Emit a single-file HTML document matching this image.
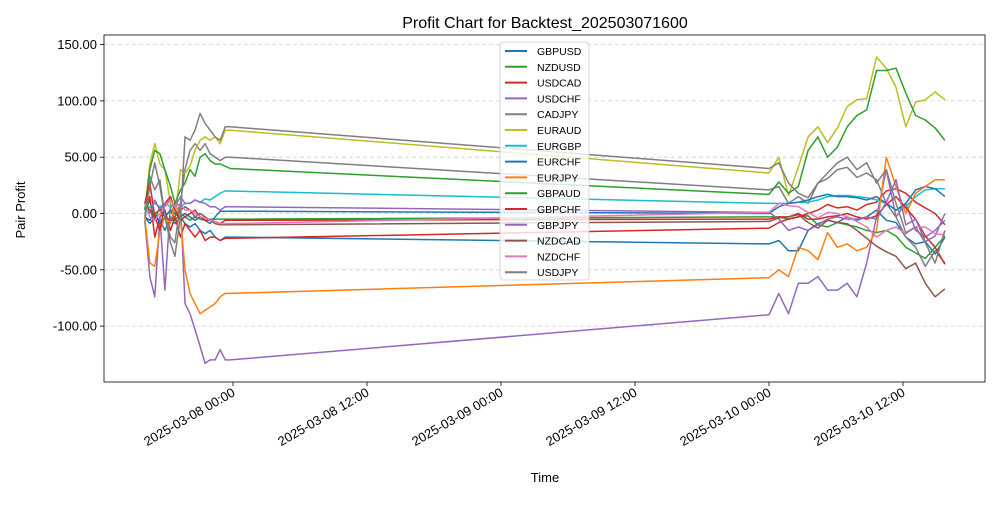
<!DOCTYPE html>
<html><head><meta charset="utf-8"><style>
body{margin:0;background:#fff;}
svg text{font-family:"Liberation Sans",sans-serif;fill:#000;}
</style></head><body>
<svg id="chart" width="1000" height="500" xmlns="http://www.w3.org/2000/svg">
<rect x="0" y="0" width="1000" height="500" fill="#fff"/>
<text x="545" y="28" font-size="16" text-anchor="middle">Profit Chart for Backtest_202503071600</text>
<text x="25" y="210" font-size="13" text-anchor="middle" transform="rotate(-90 25 210)">Pair Profit</text>
<text x="545" y="482" font-size="13" text-anchor="middle">Time</text>
<g id="grid"></g><g id="lines"></g><g id="axes"></g><g id="legend"></g>
</svg>
<script>
const seriesNames=["GBPUSD","NZDUSD","USDCAD","USDCHF","CADJPY","EURAUD","EURGBP","EURCHF","EURJPY","GBPAUD","GBPCHF","GBPJPY","NZDCAD","NZDCHF","USDJPY"];
const seriesColors=["#1f77b4","#2ca02c","#d62728","#9467bd","#7f7f7f","#bcbd22","#17becf","#1f77b4","#ff7f0e","#2ca02c","#d62728","#9467bd","#8c564b","#e377c2","#7f7f7f"];
const yTicks=[-100,-50,0,50,100,150];
const xTickHours=[0,12,24,36,48,60];
const xTickLabels=["2025-03-08 00:00","2025-03-08 12:00","2025-03-09 00:00","2025-03-09 12:00","2025-03-10 00:00","2025-03-10 12:00"];
const times1=[-7.9,-7.45,-7.0,-6.55,-6.1,-5.6,-5.2,-4.7,-4.3,-3.85,-3.4,-2.95,-2.5,-2.05,-1.6,-1.15,-0.7,-0.25];
const times2=[48,48.875,49.75,50.625,51.5,52.375,53.25,54.125,55,55.875,56.75,57.625,58.5,59.375,60.25,61.125,62,62.875,63.75];
const GBPUSD1=[-3,-9,-3,-6,-15,-3,-9,-3,-9,-12,-9,-15,-18,-15,-21,-24,-21,-21];
const GBPUSD2=[-27,-24,-33,-33,-15,-9,-6,-8,-3,-6,-3,3,-6,-8,-21,-27,-25,-36,-21];
const NZDUSD1=[0,12,-6,6,-3,3,-6,0,-3,-6,-3,-5,-6,-5,-5,-5,-5,-5];
const NZDUSD2=[-3,-3,-5,-3,-2,-10,-12,-8,-10,-12,-15,-17,-15,-20,-30,-35,-40,-30,-20];
const USDCAD1=[3,15,-21,-3,3,-15,-3,-21,-9,-15,-21,-15,-24,-21,-21,-24,-22,-22];
const USDCAD2=[-13,-8,-5,-3,0,3,8,5,6,3,8,10,20,22,18,10,5,0,-10];
const USDCHF1=[-6,-56,-74,-3,-68,9,-3,9,-80,-89,-103,-118,-133,-130,-130,-121,-130,-130];
const USDCHF2=[-90,-71,-89,-62,-62,-56,-68,-68,-62,-74,-44,-3,39,-3,9,-15,-21,-15,-6];
const CADJPY1=[-9,33,21,30,-3,-21,-26,9,39,56,62,56,62,53,50,47,50,50];
const CADJPY2=[21,24,9,15,9,27,31,39,41,32,36,30,9,-3,-21,-30,-47,-33,-44];
const EURAUD1=[3,44,62,44,39,9,-3,39,36,42,56,65,68,65,68,62,74,74];
const EURAUD2=[36,50,16,41,68,77,63,76,95,101,102,139,129,112,77,99,101,108,101];
const EURGBP1=[3,6,9,6,9,6,9,6,9,9,12,10,13,12,15,18,20,20];
const EURGBP2=[9,9,9,10,10,12,15,16,16,15,14,12,9,3,6,15,21,22,22];
const EURCHF1=[-3,-6,0,-9,-3,3,0,-3,0,-3,-6,-3,-6,-9,-3,2,2,2];
const EURCHF2=[0,6,9,10,12,15,17,15,15,14,12,15,9,3,9,21,24,22,15];
const EURJPY1=[-3,-44,-47,-15,-3,-9,9,-3,-50,-71,-80,-89,-86,-83,-80,-74,-71,-71];
const EURJPY2=[-57,-50,-56,-30,-33,-41,-17,-30,-27,-33,-30,-15,50,24,0,18,24,30,30];
const GBPAUD1=[3,39,56,53,39,24,9,21,27,39,33,50,53,47,44,44,42,40];
const GBPAUD2=[17,28,18,24,56,68,50,59,77,87,92,127,127,129,107,87,83,76,65];
const GBPCHF1=[9,27,-3,-15,9,15,3,-6,-3,0,3,-3,-6,-6,-7,-9,-6,-6];
const GBPCHF2=[-5,-3,-3,0,-5,-5,-3,-2,0,-3,-5,-2,8,15,5,-5,-20,-30,-45];
const GBPJPY1=[9,0,12,3,9,12,6,15,9,9,12,10,9,6,6,3,6,6];
const GBPJPY2=[1,-5,-15,-12,-15,-10,-5,-3,-5,-5,-3,-5,10,30,-10,-5,-25,-20,0];
const NZDCAD1=[9,3,0,3,-3,-6,-3,3,6,3,-3,0,-3,-6,-9,-10,-10,-10];
const NZDCAD2=[-7,-4,-3,-1,-8,-13,-6,-8,-9,-15,-22,-29,-34,-38,-49,-44,-62,-74,-67];
const NZDCHF1=[9,-3,-6,0,6,12,6,9,3,3,0,-3,-4,-6,-7,-9,-9,-9];
const NZDCHF2=[1,9,7,6,1,-4,1,0,-3,-7,-12,-21,-15,-12,-18,-12,-12,-18,-19];
const USDJPY1=[-3,24,45,24,-3,-26,-38,-3,68,65,74,89,80,74,68,65,77,77];
const USDJPY2=[40,45,27,18,14,27,36,45,50,39,45,27,39,9,-17,-12,-26,-44,-15];
const seg1=[GBPUSD1,NZDUSD1,USDCAD1,USDCHF1,CADJPY1,EURAUD1,EURGBP1,EURCHF1,EURJPY1,GBPAUD1,GBPCHF1,GBPJPY1,NZDCAD1,NZDCHF1,USDJPY1];
const seg2=[GBPUSD2,NZDUSD2,USDCAD2,USDCHF2,CADJPY2,EURAUD2,EURGBP2,EURCHF2,EURJPY2,GBPAUD2,GBPCHF2,GBPJPY2,NZDCAD2,NZDCHF2,USDJPY2];

const NS="http://www.w3.org/2000/svg";
const L=104,R=985,T=35,B=382;
function xS(h){return 233+h*(134/12);}
function yS(v){return 213.5-v*1.126;}
function mk(tag,attrs,parent){const e=document.createElementNS(NS,tag);for(const k in attrs)e.setAttribute(k,attrs[k]);parent.appendChild(e);return e;}
const grid=document.getElementById('grid'),lines=document.getElementById('lines'),axes=document.getElementById('axes'),legend=document.getElementById('legend');
yTicks.forEach(v=>{
  const g=mk('line',{x1:L,x2:R,y1:yS(v),y2:yS(v),stroke:'#b0b0b0','stroke-width':0.8,'stroke-dasharray':'4,3',opacity:0.6},grid);
  
  
  const t=mk('line',{x1:L-4,x2:L,y1:yS(v),y2:yS(v),stroke:'#000','stroke-width':0.8},axes);
  
  
  const lb=mk('text',{x:L-7,y:yS(v)+4.5,'font-size':13,'text-anchor':'end'},axes);
  lb.textContent=v.toFixed(2);
  
  
});
xTickHours.forEach((h,i)=>{
  const x=xS(h);
  const t=mk('line',{x1:x,x2:x,y1:B,y2:B+4,stroke:'#000','stroke-width':0.8},axes);
  
  
  const ax=x+3, ay=B+13;
  const lb=mk('text',{x:ax,y:ay,'font-size':13,'text-anchor':'end',transform:`rotate(-30 ${ax} ${ay})`},axes);
  lb.textContent=xTickLabels[i];
  
  
});
const frame=mk('rect',{x:L,y:T,width:R-L,height:B-T,fill:'none',stroke:'#000','stroke-width':0.8},axes);


seriesNames.forEach((n,i)=>{
  const pts=[];
  times1.forEach((h,j)=>pts.push(xS(h).toFixed(1)+','+yS(seg1[i][j]).toFixed(1)));
  times2.forEach((h,j)=>pts.push(xS(h).toFixed(1)+','+yS(seg2[i][j]).toFixed(1)));
  const p=mk('polyline',{points:pts.join(' '),fill:'none',stroke:seriesColors[i],'stroke-width':1.5,'stroke-linejoin':'round'},lines);
  
  
});
const box=mk('rect',{x:500,y:42,width:89,height:238,rx:3,fill:'#fff','fill-opacity':0.8,stroke:'#ccc','stroke-width':0.8},legend);


seriesNames.forEach((n,i)=>{
  const y=51+i*15.8;
  const g=mk('g',{},legend);
  
  
  mk('line',{x1:505,x2:527,y1:y,y2:y,stroke:seriesColors[i],'stroke-width':2},g);
  const t=mk('text',{x:537,y:y+4,'font-size':10.5},g);
  t.textContent=n;
});
</script>
</body></html>
